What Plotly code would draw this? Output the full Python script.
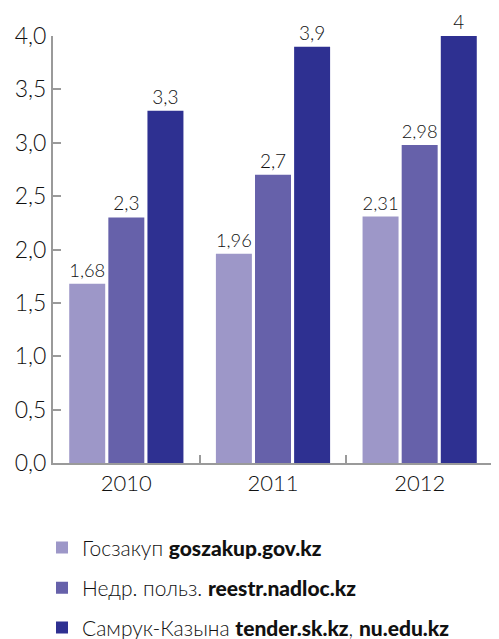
import plotly.graph_objects as go

years = ["2010", "2011", "2012"]
goszakup = [1.68, 1.96, 2.31]
nedr = [2.3, 2.7, 2.98]
samruk = [3.3, 3.9, 4.0]
B = '<span style="font-weight:900">%s</span>'
names = [
    "Госзакуп " + B % "goszakup.gov.kz",
    "Недр. польз. " + B % "reestr.nadloc.kz",
    "Самрук-Казына " + B % "tender.sk.kz" + ", " + B % "nu.edu.kz",
]
colors = ["#9d97c8", "#6661aa", "#2e3091"]
y_ticks = [0, 0.5, 1.0, 1.5, 2.0, 2.5, 3.0, 3.5, 4.0]

FONT = "Lato"
legends = ["legend", "legend2", "legend3"]

def lab(v):
    return ("%g" % v).replace(".", ",")

fig = go.Figure()
for name, vals, col, lg in zip(names, [goszakup, nedr, samruk], colors, legends):
    fig.add_trace(go.Bar(
        x=years, y=vals, name=name, marker=dict(color=col, line=dict(width=0)),
        text=[lab(v) for v in vals], textposition="outside",
        textfont=dict(family=FONT, size=19, color="#111", weight=300),
        cliponaxis=False, legend=lg,
    ))

leg_y = [-0.199, -0.293, -0.386]
leg_kw = {}
for lg, yy in zip(legends, leg_y):
    leg_kw[lg] = dict(
        x=-0.025, xanchor="left", y=yy, yanchor="middle",
        font=dict(family=FONT, size=21, color="#111", weight=300),
        itemwidth=30, bgcolor="rgba(0,0,0,0)",
    )

fig.update_layout(
    width=491, height=631,
    margin=dict(l=45, r=6, t=28, b=176, autoexpand=False),
    paper_bgcolor="white", plot_bgcolor="white",
    barmode="group", bargap=0.2, bargroupgap=0.08,
    separators=", ",
    font=dict(family=FONT, size=20, color="#111", weight=300),
    showlegend=True,
    **leg_kw,
)
fig.update_xaxes(
    showline=True, linecolor="#9a9a9a", linewidth=2, automargin=False,
    ticks="inside", tickson="boundaries", ticklen=8, tickwidth=2, tickcolor="#9a9a9a",
    tickfont=dict(family=FONT, size=22, color="#111", weight=300),
    showgrid=False,
)
fig.update_yaxes(
    range=[0, 4.0], tickvals=y_ticks, tickformat=".1f", automargin=False,
    showline=True, linecolor="#9a9a9a", linewidth=2,
    ticks="inside", ticklen=8, tickwidth=2, tickcolor="#9a9a9a",
    tickfont=dict(family=FONT, size=23, color="#111", weight=300),
    showgrid=False, zeroline=False,
)
fig.write_html("out.html")
